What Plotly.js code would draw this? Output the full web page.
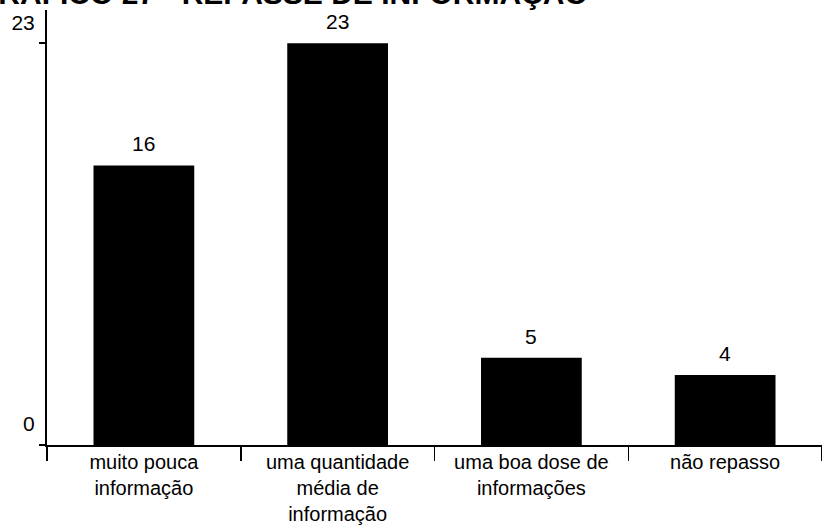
<!DOCTYPE html>
<html>
<head>
<meta charset="utf-8">
<script src="https://cdn.plot.ly/plotly-3.0.1.min.js"></script>
<style>html,body{margin:0;padding:0;background:#fff;}#chart{width:822px;height:530px;}</style>
</head>
<body>
<div id="chart"></div>
<script>
const categories = ["muito pouca<br>informação", "uma quantidade<br>média de<br>informação", "uma boa dose de<br>informações", "não repasso"];
const values = [16, 23, 5, 4];
const yTickVals = [0, 23];
const yTickText = ["0", "23"];
const titleText = "GRÁFICO 27 - REPASSE DE INFORMAÇÃO";

const font = "Liberation Sans, Arial, sans-serif";

const trace = {
  type: "bar",
  x: categories,
  y: values,
  marker: {color: "#000000", line: {width: 0}},
  hoverinfo: "none"
};

const annotations = values.map((v, i) => ({
  x: categories[i], y: v, xref: "x", yref: "y",
  text: String(v), showarrow: false,
  yanchor: "bottom", yshift: 8,
  font: {family: font, size: 21, color: "#000"}
}));

annotations.push({
  x: 0, y: 1, xref: "paper", yref: "paper",
  xanchor: "left", yanchor: "bottom", xshift: -74, yshift: -2,
  text: "<b>" + titleText + "</b>", showarrow: false,
  font: {family: font, size: 30, color: "#000"}
});

const layout = {
  width: 822, height: 530,
  margin: {l: 47, r: 0, t: 10, b: 85},
  paper_bgcolor: "#fff", plot_bgcolor: "#fff",
  showlegend: false,
  bargap: 0.48,
  xaxis: {
    showline: true, linecolor: "#000", linewidth: 2,
    ticks: "outside", tickson: "boundaries", ticklen: 14, tickwidth: 1.5, tickcolor: "#000",
    showgrid: false, zeroline: false,
    tickfont: {family: font, size: 20, color: "#000"},
    ticklabelstandoff: -2
  },
  yaxis: {
    range: [0, 24.9],
    showline: true, linecolor: "#000", linewidth: 2,
    ticks: "outside", ticklen: 6, tickwidth: 1.5, tickcolor: "#000",
    tickvals: yTickVals, ticktext: yTickText,
    showgrid: false, zeroline: false,
    tickfont: {family: font, size: 21, color: "#000"},
    ticklabelshift: -21
  },
  annotations: annotations
};

Plotly.newPlot("chart", [trace], layout, {displayModeBar: false, staticPlot: true});
</script>
</body>
</html>
